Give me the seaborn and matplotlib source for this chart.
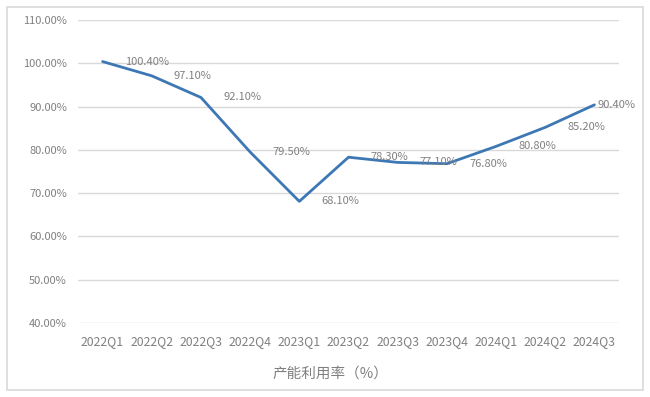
import matplotlib
matplotlib.use("Agg")
import matplotlib.pyplot as plt
import seaborn as sns
import pandas as pd
from matplotlib.patches import Rectangle

# quarterly capacity utilisation (%)
quarters = ["2022Q1", "2022Q2", "2022Q3", "2022Q4", "2023Q1", "2023Q2",
            "2023Q3", "2023Q4", "2024Q1", "2024Q2", "2024Q3"]
utilisation = [100.4, 97.1, 92.1, 79.5, 68.1, 78.3, 77.1, 76.8, 80.8, 85.2, 90.4]
y_ticks = [40, 50, 60, 70, 80, 90, 100, 110]
x_title = "产能利用率（%）"

sns.set_theme(style="white")
plt.rcParams["font.family"] = ["Noto Sans CJK SC", "DejaVu Sans"]

GRAY = "#808080"
GRID = "#d9d9d9"
LINE = "#3d78b5"

df = pd.DataFrame({"quarter": quarters, "value": utilisation})

fig = plt.figure(figsize=(6.5, 3.97), dpi=100)
ax = fig.add_axes([78 / 650, 1 - 323 / 397, (619 - 78) / 650, (323 - 20) / 397])

sns.lineplot(data=df, x="quarter", y="value", ax=ax, color=LINE,
             linewidth=2.0, sort=False)

ax.set_ylim(40, 110)
ax.set_xlim(-0.5, len(quarters) - 0.5)
ax.set_yticks(y_ticks)
ax.set_yticklabels([f"{v:.2f}%" for v in y_ticks])
ax.yaxis.grid(True, color=GRID, linewidth=1.0)
ax.set_axisbelow(True)
for s in ax.spines.values():
    s.set_visible(False)
ax.tick_params(axis="both", length=0, colors=GRAY)
ax.tick_params(axis="y", pad=8, labelsize=8)
ax.tick_params(axis="x", pad=9, labelsize=8.8)
ax.set_ylabel("")
ax.set_xlabel(x_title, color=GRAY, fontsize=10.5)
ax.xaxis.set_label_coords((330 - 78) / 541, -0.145)

# data labels, Excel-style to the right of each point
for i, v in enumerate(utilisation):
    dx = 2 if i == len(utilisation) - 1 else 16
    ax.annotate(f"{v:.2f}%", (i, v), xytext=(dx, 0), textcoords="offset points",
                ha="left", va="center", fontsize=8, color=GRAY)

fig.patches.append(Rectangle((7 / 650, 7 / 397), 636 / 650, 383 / 397,
                             transform=fig.transFigure, fill=False,
                             edgecolor=GRID, linewidth=1.2))

fig.savefig("out.png", dpi=100, facecolor="white")
